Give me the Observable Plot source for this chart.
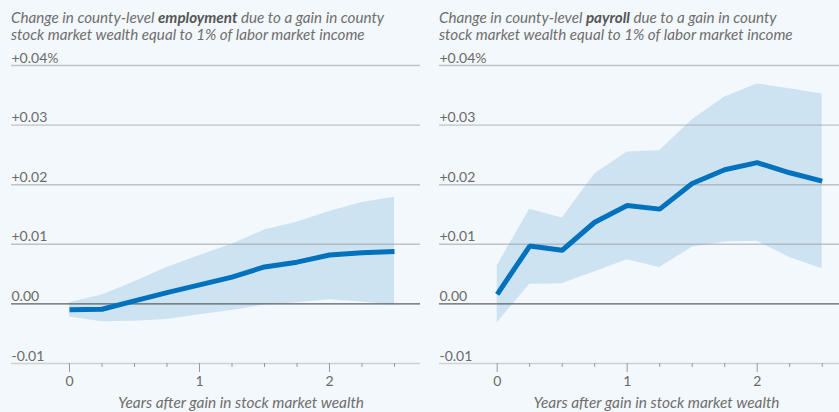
<!DOCTYPE html>
<html>
<head>
<meta charset="utf-8">
<script src="https://cdn.jsdelivr.net/npm/d3@7"></script>
<script src="https://cdn.jsdelivr.net/npm/@observablehq/plot@0.6"></script>
<style>
  html, body { margin: 0; padding: 0; background: #f3f8fc; }
  #wrap { display: flex; width: 839px; height: 412px; overflow: hidden; }
  .panel { flex: none; }
  .title { font-family: Lato, "Open Sans", sans-serif; font-style: italic; font-size: 15.2px; line-height: 17px;
           color: #6e6e6e; height: 44px; box-sizing: border-box; padding-top: 9px; white-space: nowrap; }
  .title b { color: #555; font-weight: 700; }
  svg { display: block; }
</style>
</head>
<body>
<div id="wrap"></div>
<script>
// ---- data ----
const years = [0, 0.25, 0.5, 0.75, 1, 1.25, 1.5, 1.75, 2, 2.25, 2.5];

const employmentEstimate = [-0.0010, -0.0009, 0.0005, 0.0019, 0.0032, 0.0045, 0.0062, 0.0070, 0.0082, 0.0086, 0.0088];
const employmentLow      = [-0.0022, -0.0030, -0.0029, -0.0026, -0.0018, -0.0011, -0.0002, 0.0002, 0.0007, 0.0003, -0.0002];
const employmentHigh     = [0.0002, 0.0015, 0.0037, 0.0061, 0.0081, 0.0100, 0.0124, 0.0137, 0.0155, 0.0170, 0.0179];

const payrollEstimate = [0.0016, 0.0097, 0.0090, 0.0137, 0.0165, 0.0159, 0.0202, 0.0225, 0.0237, 0.0220, 0.0206];
const payrollLow      = [-0.0032, 0.0033, 0.0034, 0.0054, 0.0074, 0.0061, 0.0095, 0.0104, 0.0105, 0.0078, 0.0059];
const payrollHigh     = [0.0064, 0.0159, 0.0144, 0.0218, 0.0255, 0.0257, 0.0309, 0.0347, 0.0369, 0.0361, 0.0352];

const yTickValues = [0.04, 0.03, 0.02, 0.01, 0, -0.01];
const yTickLabels = ["+0.04%", "+0.03", "+0.02", "+0.01", "0.00", "-0.01"];
const xMajorTicks = [0, 1, 2];
const xMinorTicks = [0.25, 0.5, 0.75, 1.25, 1.5, 1.75, 2.25, 2.5];
const xLabel = "Years after gain in stock market wealth";

const titles = [
  'Change in county-level <b>employment</b> due to a gain in county<br>stock market wealth equal to 1% of labor market income',
  'Change in county-level <b>payroll</b> due to a gain in county<br>stock market wealth equal to 1% of labor market income'
];

function rowsOf(est, low, high) {
  return years.map((x, i) => ({x, est: est[i], low: low[i], high: high[i]}));
}

function makePanel(titleHtml, rows, opts) {
  const div = document.createElement("div");
  div.className = "panel";
  div.style.width = opts.width + "px";
  const t = document.createElement("div");
  t.className = "title";
  t.style.paddingLeft = opts.marginLeft + "px";
  t.innerHTML = titleHtml;
  div.appendChild(t);

  const grid = yTickValues.filter(v => v !== 0 && v !== -0.01);
  const chart = Plot.plot({
    width: opts.width,
    height: 368,
    marginLeft: opts.marginLeft,
    marginRight: 0,
    marginTop: 21,
    marginBottom: 49,
    style: {background: "transparent", fontFamily: "Lato, 'Open Sans', sans-serif", fontSize: "13px", color: "#666", overflow: "visible"},
    x: {domain: opts.xDomain},
    y: {domain: [-0.01, 0.04], axis: null},
    marks: [
      Plot.areaY(rows, {x: "x", y1: "low", y2: "high", fill: "#cde3f2"}),
      Plot.ruleY(grid, {stroke: "#9aa0a5", strokeOpacity: 0.6, strokeWidth: 1.4}),
      Plot.ruleY([-0.01], {stroke: "#cfd2d4", strokeWidth: 1.6}),
      Plot.text(yTickValues, {y: d => d, text: (d, i) => yTickLabels[i], frameAnchor: "left", textAnchor: "start",
                              lineAnchor: "bottom", dy: -3, fill: "#6a6a6a", fontSize: 14}),
      Plot.axisX({ticks: xMinorTicks, tickSize: 4, tickFormat: () => "", stroke: "#9a9a9a", label: null}),
      Plot.axisX({ticks: xMajorTicks, tickSize: 9, tickPadding: 4, tickFormat: d => String(d), stroke: "#9a9a9a",
                  fill: "#6a6a6a", fontSize: 14, label: null}),
      Plot.text([xLabel], {frameAnchor: "bottom", text: d => d, dx: opts.labelDx, dy: 40, lineAnchor: "middle",
                           fontStyle: "italic", fontSize: 15.4, fill: "#6e6e6e"}),
      Plot.ruleY([0], {stroke: "#5f5f5f", strokeWidth: 1.4}),
      Plot.line(rows, {x: "x", y: "est", stroke: "#0072bd", strokeWidth: 5, strokeLinecap: "butt", strokeLinejoin: "miter"})
    ]
  });
  div.appendChild(chart);
  return div;
}

const wrap = document.getElementById("wrap");
wrap.appendChild(makePanel(titles[0], rowsOf(employmentEstimate, employmentLow, employmentHigh),
  {width: 420, marginLeft: 11, xDomain: [-0.4462, 2.7], labelDx: 25}));
wrap.appendChild(makePanel(titles[1], rowsOf(payrollEstimate, payrollLow, payrollHigh),
  {width: 419, marginLeft: 19, xDomain: [-0.4438, 2.633], labelDx: 17}));
</script>
</body>
</html>
